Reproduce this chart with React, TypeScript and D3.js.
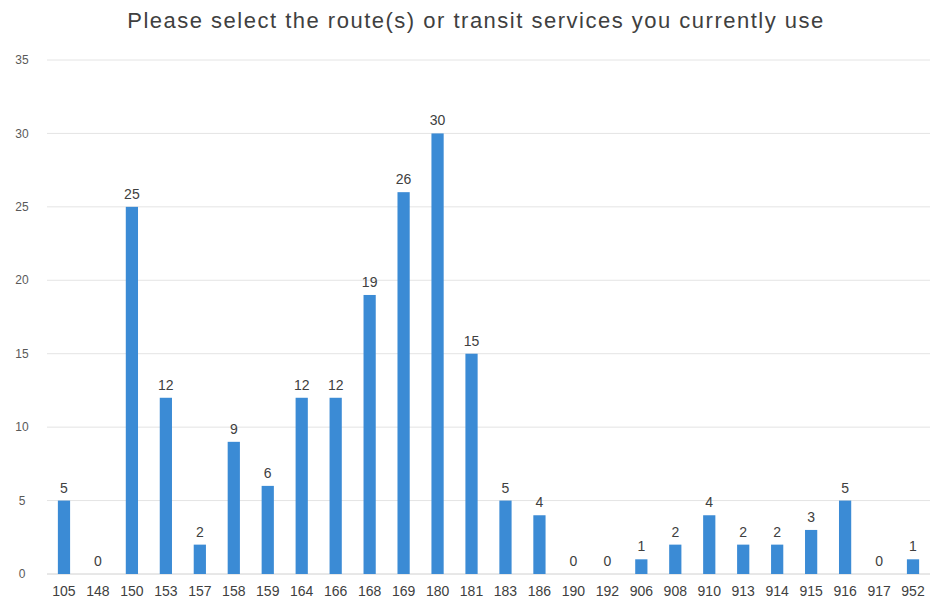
import React from "react";
import * as d3 from "d3";

const routes = ["105","148","150","153","157","158","159","164","166","168","169","180","181","183","186","190","192","906","908","910","913","914","915","916","917","952"];
const counts = [5,0,25,12,2,9,6,12,12,19,26,30,15,5,4,0,0,1,2,4,2,2,3,5,0,1];
const yTicks = [0,5,10,15,20,25,30,35];
const title = "Please select the route(s) or transit services you currently use";

const W = 932, H = 610;
const M = { left: 47, right: 2, top: 60, bottom: 36 };

export default function App() {
  const x = d3.scaleBand<string>().domain(routes).range([M.left, W - M.right]).paddingInner(0.64).paddingOuter(0.32);
  const y = d3.scaleLinear().domain([0, 35]).range([H - M.bottom, M.top]);
  const font = "'Liberation Sans', Arial, sans-serif";
  return (
    <svg width={W} height={H} style={{ position: "absolute", left: 0, top: 0, background: "#fff" }}>
      <text x={476} y={28} textAnchor="middle" fontSize={22} letterSpacing={1.5} fill="#404040" fontFamily={font}>{title}</text>
      {yTicks.map(t => (
        <g key={t}>
          <line x1={M.left} x2={W - M.right} y1={y(t)} y2={y(t)} stroke={t === 0 ? "#d0d0d0" : "#e4e4e4"} strokeWidth={1} />
          <text x={22} y={y(t)} dy="0.35em" textAnchor="middle" fontSize={12} fill="#595959" fontFamily={font}>{t}</text>
        </g>
      ))}
      {routes.map((r, i) => {
        const bx = x(r)!;
        const bw = x.bandwidth();
        const v = counts[i];
        return (
          <g key={r}>
            <rect x={bx} y={y(v)} width={bw} height={y(0) - y(v)} fill="#3B8BD5" />
            <text x={bx + bw / 2} y={y(v) - 8} textAnchor="middle" fontSize={14} fill="#404040" fontFamily={font}>{v}</text>
            <text x={bx + bw / 2} y={y(0) + 22} textAnchor="middle" fontSize={14} fill="#404040" fontFamily={font}>{r}</text>
          </g>
        );
      })}
    </svg>
  );
}
